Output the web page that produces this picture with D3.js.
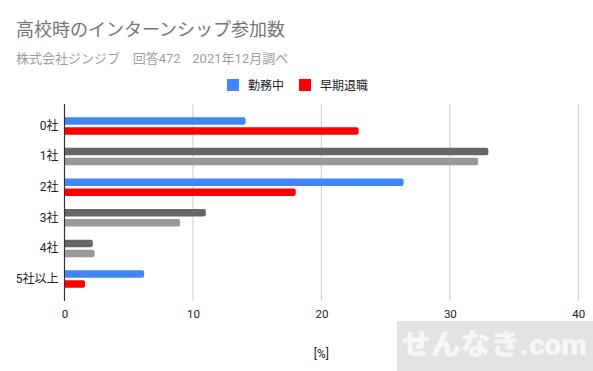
<!DOCTYPE html>
<html><head><meta charset="utf-8">
<script src="https://cdn.jsdelivr.net/npm/d3@7"></script>
<style>body{margin:0;background:#fff}svg{display:block}text{font-family:Roboto,"Noto Sans CJK JP",sans-serif}</style>
</head><body>
<script>
const categories = ["0社","1社","2社","3社","4社","5社以上"];
const seriesNames = ["勤務中","早期退職"];
const working = [14.1, 33.0, 26.4, 11.0, 2.2, 6.2];
const retired = [22.9, 32.2, 18.0, 9.0, 2.35, 1.6];
const highlighted = [true, false, true, false, false, true];
const xTicks = [0, 10, 20, 30, 40];
const title = "高校時のインターンシップ参加数";
const subtitleParts = ["株式会社ジンジブ", "回答472", "2021年12月調べ"];
const xLabel = "[%]";
const watermark = "せんなき.com";

(function(){
const W = 593, H = 371;
const svg = d3.select("body").append("svg").attr("width", W).attr("height", H);
const seriesColors = ["#4285F4", "#FF0000"];
const greyColors = ["#666666", "#999999"];

const pLeft = 64.5, pRight = 578.3, pTop = 104, pBottom = 301;
const x = d3.scaleLinear().domain([0, 40]).range([pLeft, pRight]);
const y = d3.scaleBand().domain(categories).range([pTop, pBottom]).paddingInner(0.43).paddingOuter(0.43);
const y1 = d3.scaleBand().domain([0, 1]).range([0, y.bandwidth()]).paddingInner(0.25);

svg.append("text").attr("x", 16).attr("y", 36).attr("font-size", 18).attr("fill", "#757575").text(title);
const sub = svg.append("text").attr("y", 63).attr("font-size", 13).attr("fill", "#9e9e9e");
const subX = [16, 132.7, 192.3];
subtitleParts.forEach((t, i) => sub.append("tspan").attr("x", subX[i]).text(t));

const lg = svg.append("g");
const legendX = [227, 299];
seriesNames.forEach((n, i) => {
  lg.append("rect").attr("x", legendX[i]).attr("y", 79).attr("width", 12).attr("height", 12).attr("fill", seriesColors[i]);
  lg.append("text").attr("x", legendX[i] + 21).attr("y", 89.5).attr("font-size", 12).attr("fill", "#222").text(n);
});

svg.append("g").selectAll("line").data(xTicks.filter(d => d > 0)).join("line")
  .attr("x1", d => x(d)).attr("x2", d => x(d)).attr("y1", pTop).attr("y2", pBottom)
  .attr("stroke", "#cccccc").attr("stroke-width", 1);

function barPath(x0, y0, w, h, r) {
  r = Math.min(r, w, h / 2);
  return `M${x0},${y0}H${x0 + w - r}Q${x0 + w},${y0} ${x0 + w},${y0 + r}V${y0 + h - r}Q${x0 + w},${y0 + h} ${x0 + w - r},${y0 + h}H${x0}Z`;
}
const rows = categories.map((c, i) => ({c, i, vals: [working[i], retired[i]]}));
const g = svg.append("g");
rows.forEach(r => {
  r.vals.forEach((v, s) => {
    const col = highlighted[r.i] ? seriesColors[s] : greyColors[s];
    g.append("path")
      .attr("d", barPath(x(0), y(r.c) + y1(s), x(v) - x(0), y1.bandwidth(), 2))
      .attr("fill", col);
  });
});

svg.append("line").attr("x1", x(0)).attr("x2", x(0)).attr("y1", pTop).attr("y2", pBottom)
  .attr("stroke", "#333").attr("stroke-width", 1.2);

const yAxis = d3.axisLeft(y).tickSize(0).tickPadding(6);
const ya = svg.append("g").attr("transform", `translate(${x(0)},0)`).call(yAxis);
ya.select(".domain").remove();
ya.selectAll("text").attr("font-size", 12).attr("fill", "#222").style("font-family", 'Roboto,"Noto Sans CJK JP",sans-serif');

const xAxis = d3.axisBottom(x).tickValues(xTicks).tickSize(0).tickPadding(8.5);
const xa = svg.append("g").attr("transform", `translate(0,${pBottom})`).call(xAxis);
xa.select(".domain").remove();
xa.selectAll("text").attr("font-size", 11.5).attr("fill", "#222").style("font-family", 'Roboto,"Noto Sans CJK JP",sans-serif');

svg.append("text").attr("x", x(20)).attr("y", 358).attr("text-anchor", "middle").attr("font-size", 12).attr("fill", "#222").text(xLabel);

svg.append("rect").attr("x", 397).attr("y", 321).attr("width", W - 397).attr("height", H - 321).attr("fill", "#e3e3e3");
svg.append("text").attr("x", 401).attr("y", 355).attr("font-size", 29).attr("font-weight", 900).attr("fill", "#f7f7f7")
  .attr("textLength", 186).attr("lengthAdjust", "spacingAndGlyphs").text(watermark);
})();
</script>
</body></html>
